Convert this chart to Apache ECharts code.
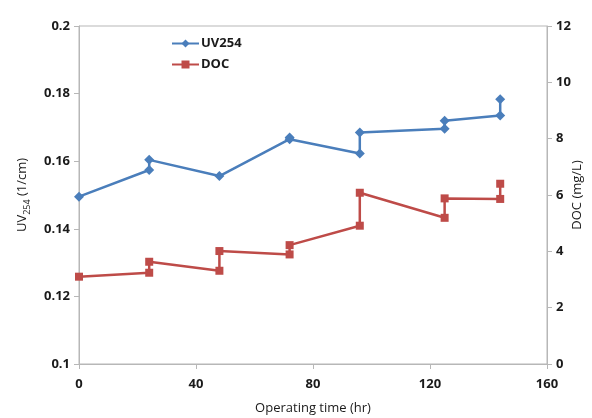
<!DOCTYPE html>
<html>
<head>
<meta charset="utf-8">
<script src="https://cdn.jsdelivr.net/npm/echarts@6/dist/echarts.min.js"></script>
<style>
  html, body { margin: 0; padding: 0; background: #fff; }
  #chart { width: 592px; height: 418px; }
</style>
</head>
<body>
<div id="chart"></div>
<script>
// Sampling times (hr), in drawing order; repeated times hold before/after readings
const uvTime = [0, 24, 24, 48, 72, 72, 96, 96, 125, 125, 144, 144];
const uvValues = [0.1495, 0.1574, 0.1604, 0.1556, 0.1665, 0.1670, 0.1623, 0.1685, 0.1696, 0.1720, 0.1735, 0.1783];

const docTime = [0, 24, 24, 48, 48, 72, 72, 96, 96, 125, 125, 144, 144];
const docValues = [3.10, 3.24, 3.63, 3.31, 4.01, 3.89, 4.22, 4.91, 6.08, 5.19, 5.88, 5.86, 6.40];

const xTicks = { min: 0, max: 160, interval: 40 };
const uvTicks = { min: 0.1, max: 0.2, interval: 0.02 };
const docTicks = { min: 0, max: 12, interval: 2 };

const FONT = '"Open Sans", "Liberation Sans", sans-serif';
const AXIS_GREY = '#b7b7b7';
const TEXT = '#1a1a1a';

const pairs = (xs, ys) => xs.map((x, i) => [x, ys[i]]);

const chart = echarts.init(document.getElementById('chart'), null, { renderer: 'canvas' });

const axisCommon = {
  nameMoveOverlap: false,
  axisLine: { show: true, lineStyle: { color: AXIS_GREY, width: 1 } },
  axisTick: { show: true, inside: false, length: 5, lineStyle: { color: AXIS_GREY } },
  splitLine: { show: false },
  axisLabel: { color: TEXT, fontFamily: FONT, fontWeight: 'bold', fontSize: 13 }
};

chart.setOption({
  animation: false,
  backgroundColor: '#fff',
  grid: {
    left: 79, right: 45, top: 26, bottom: 54,
    outerBoundsMode: 'none', containLabel: false,
    show: true, borderColor: AXIS_GREY, borderWidth: 1, backgroundColor: 'transparent'
  },
  legend: {
    left: 171, top: 37, padding: 0, orient: 'vertical', itemGap: 8,
    itemWidth: 27, itemHeight: 10,
    textStyle: { color: TEXT, fontFamily: FONT, fontWeight: 'bold', fontSize: 13, padding: [0, 0, 0, -3] },
    data: ['UV254', 'DOC']
  },
  xAxis: Object.assign({}, axisCommon, {
    type: 'value',
    min: xTicks.min, max: xTicks.max, interval: xTicks.interval,
    name: 'Operating time (hr)',
    nameLocation: 'middle', nameGap: 38,
    nameTextStyle: { color: TEXT, fontFamily: FONT, fontSize: 13 },
    axisLabel: Object.assign({}, axisCommon.axisLabel, { margin: 14 })
  }),
  yAxis: [
    Object.assign({}, axisCommon, {
      type: 'value', position: 'left',
      min: uvTicks.min, max: uvTicks.max, interval: uvTicks.interval,
      name: '{a|UV}{s|254}{a| (1/cm)}',
      nameLocation: 'middle', nameGap: 50, nameRotate: 90,
      nameTextStyle: {
        color: TEXT, fontFamily: FONT, fontSize: 13,
        rich: {
          a: { color: TEXT, fontFamily: FONT, fontSize: 13, lineHeight: 18, verticalAlign: 'bottom' },
          s: { color: TEXT, fontFamily: FONT, fontSize: 9, lineHeight: 12, verticalAlign: 'bottom', padding: [0, 0, -3, 0] }
        }
      },
      axisLabel: Object.assign({}, axisCommon.axisLabel, { margin: 9 })
    }),
    Object.assign({}, axisCommon, {
      type: 'value', position: 'right',
      min: docTicks.min, max: docTicks.max, interval: docTicks.interval,
      name: 'DOC (mg/L)',
      nameLocation: 'middle', nameGap: 24, nameRotate: 90,
      nameTextStyle: { color: TEXT, fontFamily: FONT, fontSize: 13 },
      axisLabel: Object.assign({}, axisCommon.axisLabel, { margin: 9 })
    })
  ],
  series: [
    {
      name: 'UV254', type: 'line', yAxisIndex: 0,
      data: pairs(uvTime, uvValues),
      symbol: 'diamond', symbolSize: 10,
      itemStyle: { color: '#4a7ebb' },
      lineStyle: { color: '#4a7ebb', width: 2.5 }
    },
    {
      name: 'DOC', type: 'line', yAxisIndex: 1,
      data: pairs(docTime, docValues),
      symbol: 'rect', symbolSize: 8,
      itemStyle: { color: '#be4b48' },
      lineStyle: { color: '#be4b48', width: 2.5 }
    }
  ]
});
</script>
</body>
</html>
